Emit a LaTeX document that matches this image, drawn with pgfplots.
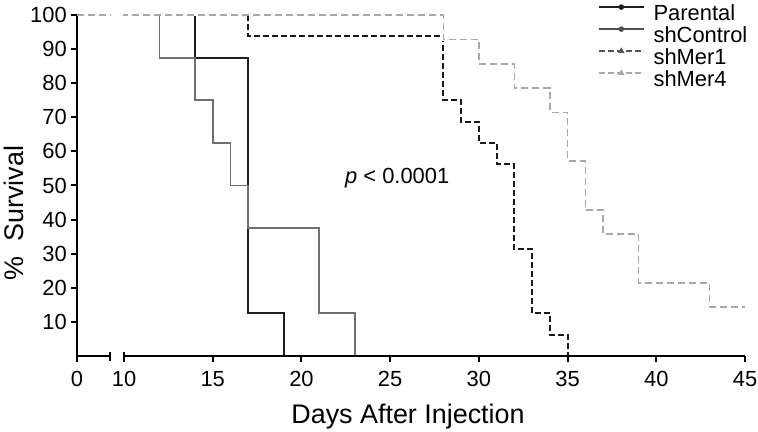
\documentclass[border=0pt]{standalone}
\usepackage{fontspec}
\setmainfont{Liberation Sans}
\usepackage{pgfplots}
\pgfplotsset{compat=1.18}
\usepackage{pgfplotstable}

\definecolor{cpar}{HTML}{1E1E1E}
\definecolor{cctl}{HTML}{707070}
\definecolor{cm1}{HTML}{1A1A1A}
\definecolor{cm4}{HTML}{A8A8A8}

% Kaplan-Meier data: day, % survival (day 0 is drawn at 7.35 because of the axis break)
\pgfplotstableread{
x y
0 100
14 87.5
17 12.5
19 0
}\parental
\pgfplotstableread{
x y
0 100
12 87.5
14 75
15 62.5
16 50
17 37.5
21 12.5
23 0
}\shcontrol
\pgfplotstableread{
x y
0 100
17 93.75
28 75
29 68.75
30 62.5
31 56.25
32 31.25
33 12.5
34 6.25
35 0
}\shmerone
\pgfplotstableread{
x y
0 100
28 92.86
30 85.71
32 78.57
34 71.43
35 57.14
36 42.86
37 35.71
39 21.43
43 14.29
45 14.29
}\shmerfour

\begin{document}
\begin{tikzpicture}
\begin{axis}[
  scale only axis, width=668bp, height=341bp,
  xmin=7.35, xmax=45, ymin=0, ymax=100,
  axis x line=bottom, axis y line=left,
  axis line style={-, line width=2bp, black},
  x axis line style={draw=none},
  xtick={7.35,10,15,20,25,30,35,40,45},
  xticklabels={\textrm{0},\textrm{10},\textrm{15},\textrm{20},\textrm{25},\textrm{30},\textrm{35},\textrm{40},\textrm{45}},
  ytick={10,20,30,40,50,60,70,80,90,100},
  /pgf/number format/assume math mode=true,
  tick align=outside, major tick length=6bp,
  tick style={black, line width=2bp},
  tick label style={font=\fontsize{22}{26}\selectfont},
  yticklabel style={inner sep=0pt, xshift=-4bp},
  xticklabel style={inner sep=0pt, yshift=-9bp},
  xlabel={Days After Injection},
  ylabel={\%\ \ Survival},
  label style={font=\fontsize{27}{32}\selectfont},
  xlabel style={at={(axis description cs:0.4955,-0.199)}, anchor=base},
  ylabel style={at={(axis description cs:-0.0808,0.419)}, anchor=base, rotate=0},
  clip=false,
  legend style={draw=none, fill=none, at={(axis description cs:0.78,1.032)}, anchor=north west,
    inner sep=0pt, outer sep=0pt, font=\fontsize{22}{26}\selectfont, row sep=1bp,
    nodes={inner sep=0pt, text height=16bp, text depth=5bp},
    /tikz/every odd column/.append style={column sep=9bp}},
  legend cell align=left,
  legend image code/.code={\draw[mark repeat=2, mark phase=2, #1] plot coordinates {(0bp,7.5bp) (22.5bp,7.5bp) (45bp,7.5bp)};},
]
\addlegendimage{cpar, line width=1.5bp, mark=*, mark size=2bp}
\addlegendentry{Parental}
\addlegendimage{cctl!70!black, line width=1.5bp, mark=*, mark size=2bp}
\addlegendentry{shControl}
\addlegendimage{cm1!75!white, line width=1.5bp, dash pattern=on 6bp off 3bp, mark=triangle*, mark size=2.2bp, mark options={solid}}
\addlegendentry{shMer1}
\addlegendimage{cm4, line width=1.5bp, dash pattern=on 6bp off 3bp, mark=triangle*, mark size=2.2bp, mark options={solid}}
\addlegendentry{shMer4}

\addplot[const plot, cpar, line width=2.2bp, forget plot] table[x expr={\thisrow{x}<1 ? 7.35 : \thisrow{x}}, y=y] {\parental};
\addplot[const plot, cctl, line width=1.8bp, forget plot] table[x expr={\thisrow{x}<1 ? 7.35 : \thisrow{x}}, y=y] {\shcontrol};
\addplot[const plot, cm1, line width=2.1bp, dash pattern=on 6bp off 3bp, forget plot] table[x expr={\thisrow{x}<1 ? 7.35 : \thisrow{x}}, y=y] {\shmerone};
\addplot[const plot, white, line width=3bp, forget plot] table[x expr={\thisrow{x}<1 ? 7.35 : \thisrow{x}}, y=y] {\shmerfour};
\addplot[const plot, cm4, line width=1.6bp, dash pattern=on 7bp off 4bp, forget plot] table[x expr={\thisrow{x}<1 ? 7.35 : \thisrow{x}}, y=y] {\shmerfour};

% gap of the axis break in the top line
\draw[white, line width=5bp] (axis cs:9.25,100) -- (axis cs:9.95,100);

% broken x axis
\draw[line width=2bp, black] (axis cs:7.35,0) -- (axis cs:9.2,0);
\draw[line width=2bp, black] (axis cs:10,0) -- (axis cs:45,0);
\draw[line width=2bp, black] ([yshift=-4.5bp]axis cs:9.2,0) -- ([yshift=4.5bp]axis cs:9.2,0);
\draw[line width=2bp, black] ([yshift=-4.5bp]axis cs:10,0) -- ([yshift=4.5bp]axis cs:10,0);

\node[anchor=base west, inner sep=0pt, font=\fontsize{22}{26}\selectfont] at (axis cs:22.45,50.6) {\textit{p} < 0.0001};
\end{axis}
\pgfresetboundingbox
\path (current axis.origin) ++(-77bp,-76bp) rectangle ++(758bp,432bp);
\end{tikzpicture}
\end{document}
